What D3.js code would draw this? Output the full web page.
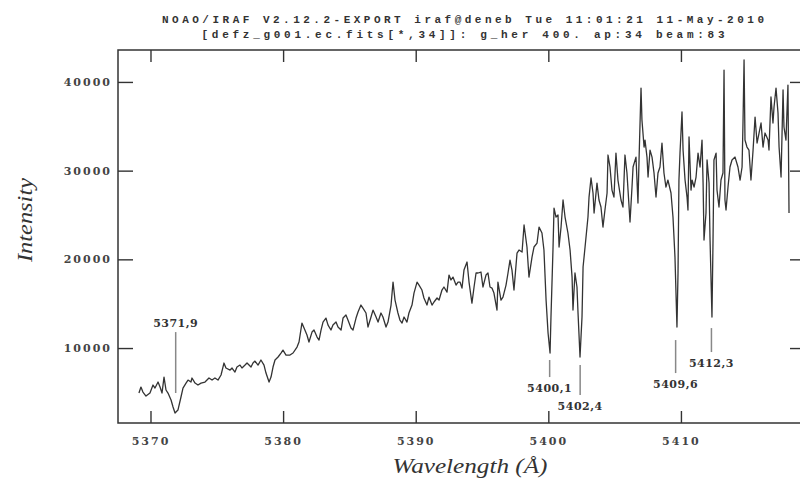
<!DOCTYPE html>
<html>
<head>
<meta charset="utf-8">
<script src="https://cdn.jsdelivr.net/npm/d3@7"></script>
<style>
  body { margin: 0; background: #fff; }
  svg { display: block; }
</style>
</head>
<body>
<div id="content"></div>
<script>
// spectrum (Angstrom, counts)
var wavelength = [
  5369.13,5369.28,5369.43,5369.66,5369.96,5370.19,5370.34,5370.57,5370.72,5370.87,
  5371.02,5371.17,5371.32,5371.55,5371.70,5371.85,5372.07,5372.30,5372.45,5372.68,
  5372.83,5373.05,5373.13,5373.36,5373.58,5373.81,5374.11,5374.41,5374.64,5374.86,
  5375.09,5375.32,5375.54,5375.69,5376.00,5376.15,5376.37,5376.52,5376.75,5376.90,
  5377.13,5377.28,5377.58,5377.73,5377.88,5378.11,5378.33,5378.56,5378.71,5378.94,
  5379.09,5379.24,5379.39,5379.62,5379.84,5379.99,5380.22,5380.52,5380.75,5381.05,
  5381.20,5381.42,5381.58,5381.80,5381.95,5382.18,5382.33,5382.56,5382.71,5382.86,
  5383.01,5383.23,5383.39,5383.61,5383.76,5383.99,5384.14,5384.37,5384.52,5384.74,
  5384.89,5385.12,5385.27,5385.50,5385.65,5385.87,5386.02,5386.25,5386.40,5386.63,
  5386.78,5387.01,5387.16,5387.38,5387.53,5387.76,5387.91,5388.14,5388.29,5388.44,
  5388.66,5388.81,5388.97,5389.12,5389.34,5389.49,5389.72,5389.87,5390.10,5390.25,
  5390.47,5390.62,5390.85,5391.00,5391.23,5391.38,5391.61,5391.76,5391.98,5392.13,
  5392.36,5392.51,5392.66,5392.81,5393.04,5393.19,5393.34,5393.49,5393.64,5393.87,
  5394.02,5394.24,5394.40,5394.55,5394.70,5394.92,5395.07,5395.30,5395.45,5395.60,
  5395.75,5395.90,5396.13,5396.20,5396.43,5396.58,5396.81,5396.96,5397.11,5397.26,
  5397.41,5397.64,5397.79,5398.02,5398.17,5398.39,5398.54,5398.77,5398.92,5399.15,
  5399.30,5399.52,5399.67,5399.83,5399.98,5400.13,5400.20,5400.35,5400.43,5400.58,
  5400.73,5400.81,5400.96,5401.11,5401.26,5401.48,5401.64,5401.79,5401.86,5402.01,
  5402.16,5402.24,5402.39,5402.54,5402.62,5402.77,5402.99,5403.07,5403.22,5403.37,
  5403.45,5403.67,5403.82,5403.97,5404.12,5404.27,5404.43,5404.50,5404.65,5404.80,
  5404.95,5405.10,5405.25,5405.48,5405.63,5405.78,5405.93,5406.16,5406.31,5406.39,
  5406.61,5406.76,5406.84,5406.99,5407.06,5407.22,5407.29,5407.44,5407.52,5407.67,
  5407.82,5407.97,5408.12,5408.27,5408.42,5408.57,5408.72,5408.87,5409.02,5409.25,
  5409.40,5409.55,5409.70,5409.78,5409.85,5409.93,5410.08,5410.16,5410.31,5410.46,
  5410.53,5410.61,5410.76,5410.84,5410.99,5411.14,5411.29,5411.44,5411.59,5411.67,
  5411.74,5411.89,5411.97,5412.12,5412.19,5412.34,5412.42,5412.49,5412.65,5412.72,
  5412.87,5413.02,5413.17,5413.25,5413.32,5413.40,5413.55,5413.70,5413.85,5414.08,
  5414.30,5414.46,5414.61,5414.68,5414.76,5414.83,5414.98,5415.13,5415.28,5415.44,
  5415.59,5415.74,5415.89,5416.04,5416.19,5416.34,5416.57,5416.64,5416.79,5416.94,
  5417.02,5417.17,5417.32,5417.40,5417.55,5417.70,5417.77,5417.92,5418.07,5418.15
]
var intensity = [
  4930,5600,5040,4590,4930,5830,5490,6170,5600,4930,
  6730,5270,4930,4140,3350,2670,3010,4480,5490,6050,
  6390,6170,6620,6050,5830,6050,6170,6620,6390,6620,
  6390,6960,8310,7750,7520,7750,7290,7860,8080,7750,
  8080,8310,7860,8310,8530,8080,8650,8080,7180,6170,
  6730,7860,8650,8990,9440,9770,9210,9210,9440,10110,
  10680,12820,12250,11470,10680,11800,12030,11240,10900,12030,
  12930,13380,12590,12030,12590,12930,12370,12030,13380,13720,
  13160,12250,12030,13380,14060,14850,14510,13950,12370,13500,
  14280,13500,12930,13950,13500,12370,12930,14850,17440,15410,
  13950,13160,12820,13500,12930,13950,14850,16200,17440,17100,
  16540,15640,14850,15750,14850,15190,15640,15410,16540,16880,
  16310,18230,17670,18000,17100,17440,17440,16760,18790,19700,
  17440,15070,16880,18460,18460,18570,16880,18230,18460,16880,
  16760,16200,14280,17440,15410,15750,17100,18460,19920,18790,
  16540,20710,21050,20820,23870,21390,18000,20260,21390,21840,
  23640,22970,21050,15410,11690,9440,13500,21050,25780,24770,
  25000,21390,23640,26690,24770,22970,21050,18000,14280,18460,
  16880,13950,8990,13500,19130,21390,24770,27020,29170,27480,
  25220,28600,26690,25900,23640,25560,27480,31760,30410,27810,
  27020,31980,28940,26690,25900,31760,29730,24210,28150,30410,
  31530,26350,31200,39310,35710,32660,33450,31530,29280,32320,
  31530,29730,27020,29730,30410,33110,29730,28150,28940,27480,
  24770,20260,12370,18460,28940,31980,36610,32320,28940,27020,
  25560,33790,27810,28940,28150,29280,31980,30410,33450,28600,
  22180,25220,31200,28600,22510,13500,22180,31200,31980,27810,
  25900,28940,29730,41340,26690,25560,28150,30410,31200,31530,
  30410,28940,30410,35370,42470,33450,32660,32320,28940,32320,
  36040,33110,34240,35370,32660,34240,33450,32320,38300,35370,
  37170,39310,36490,32660,29280,39090,34920,33450,39650,25220
]

var xTicks = [5370, 5380, 5390, 5400, 5410]
var yTicks = [10000, 20000, 30000, 40000]

// line identifications: wavelength, label, marker from/to (counts), label side
var markWave  = [5371.9, 5400.1, 5402.4, 5409.6, 5412.3]
var markLabel = ["5371,9", "5400,1", "5402,4", "5409,6", "5412,3"]
var markFrom  = [4930, 8650, 8080, 10900, 12250]
var markTo    = [11800, 6730, 4700, 7180, 9550]
var markAbove = [true, false, false, false, false]

var titleLines = [
  "NOAO/IRAF V2.12.2-EXPORT iraf@deneb Tue 11:01:21 11-May-2010",
  "[defz_g001.ec.fits[*,34]]: g_her 400. ap:34 beam:83"
]

var svgwidth = 800
var svgheight = 479
var plot = {left: 118, right: 804, top: 50, bottom: 423}

var x = d3.scaleLinear().domain([5367.55, 5419.28]).range([plot.left, plot.right])
var y = d3.scaleLinear().domain([1550, 43600]).range([plot.bottom, plot.top])

var svg = d3.select("#content").append("svg")
  .attr("width", svgwidth)
  .attr("height", svgheight)
  .style("background", "#fff")

svg.append("defs").append("clipPath").attr("id", "clip")
  .append("rect")
  .attr("x", plot.left).attr("y", plot.top)
  .attr("width", plot.right - plot.left).attr("height", plot.bottom - plot.top)

var tickFont = "'DejaVu Serif', serif"

function styleAxis(g, showText) {
  g.select(".domain").remove()
  g.selectAll(".tick line").attr("stroke", "#333").attr("stroke-width", 1.4)
  g.selectAll(".tick text")
    .attr("fill", "#444")
    .style("font-family", tickFont)
    .style("font-weight", "bold")
    .style("font-size", "11px")
    .style("letter-spacing", "2px")
  if (!showText) g.selectAll(".tick text").remove()
}

// axes
svg.append("g")
  .attr("transform", "translate(0," + plot.bottom + ")")
  .call(d3.axisBottom(x).tickValues(xTicks).tickSizeInner(-12).tickSizeOuter(0).tickPadding(14).tickFormat(d3.format("d")))
  .call(styleAxis, true)
svg.append("g")
  .attr("transform", "translate(0," + plot.top + ")")
  .call(d3.axisTop(x).tickValues(xTicks).tickSizeInner(-12).tickSizeOuter(0))
  .call(styleAxis, false)
svg.append("g")
  .attr("transform", "translate(" + plot.left + ",0)")
  .call(d3.axisLeft(y).tickValues(yTicks).tickSizeInner(-15).tickSizeOuter(0).tickPadding(6).tickFormat(d3.format("d")))
  .call(styleAxis, true)
svg.append("g")
  .attr("transform", "translate(" + plot.right + ",0)")
  .call(d3.axisRight(y).tickValues(yTicks).tickSizeInner(-14).tickSizeOuter(0))
  .call(styleAxis, false)

// frame
svg.append("rect")
  .attr("x", plot.left).attr("y", plot.top)
  .attr("width", plot.right - plot.left).attr("height", plot.bottom - plot.top)
  .attr("fill", "none").attr("stroke", "#333").attr("stroke-width", 1.5)

// spectrum
var pts = wavelength.map(function(w, i) { return [w, intensity[i]] })
svg.append("path")
  .datum(pts)
  .attr("clip-path", "url(#clip)")
  .attr("fill", "none")
  .attr("stroke", "#333")
  .attr("stroke-width", 1.3)
  .attr("stroke-linejoin", "round")
  .attr("d", d3.line().x(function(d) { return x(d[0]) }).y(function(d) { return y(d[1]) }))

// line marks
for (var i = 0; i < markWave.length; i++) {
  var mx = x(markWave[i])
  svg.append("line")
    .attr("x1", mx).attr("x2", mx)
    .attr("y1", y(markFrom[i])).attr("y2", y(markTo[i]))
    .attr("stroke", "#888").attr("stroke-width", 1.5)
  svg.append("text")
    .attr("x", mx)
    .attr("y", markAbove[i] ? y(markTo[i]) - 5 : y(markTo[i]) + 15)
    .attr("text-anchor", "middle")
    .attr("fill", "#333")
    .style("font-family", tickFont)
    .style("font-weight", "bold")
    .style("font-size", "11px")
    .style("letter-spacing", "0.5px")
    .text(markLabel[i])
}

// titles
var titleWidths = [602, 523]
for (var j = 0; j < titleLines.length; j++) {
  svg.append("text")
    .attr("x", 463)
    .attr("y", 23 + j * 15)
    .attr("text-anchor", "middle")
    .attr("textLength", titleWidths[j])
    .attr("lengthAdjust", "spacing")
    .attr("fill", "#333")
    .style("font-family", "'Liberation Mono', monospace")
    .style("font-weight", "bold")
    .style("font-size", "11px")
    .text(titleLines[j])
}

// axis labels
svg.append("text")
  .attr("x", 470).attr("y", 473)
  .attr("text-anchor", "middle")
  .attr("textLength", 155).attr("lengthAdjust", "spacingAndGlyphs")
  .attr("fill", "#333")
  .style("font-family", "'Liberation Serif', serif")
  .style("font-style", "italic")
  .style("font-size", "21px")
  .text("Wavelength (\u00C5)")

svg.append("text")
  .attr("transform", "translate(32,220) rotate(-90)")
  .attr("text-anchor", "middle")
  .attr("textLength", 84).attr("lengthAdjust", "spacingAndGlyphs")
  .attr("fill", "#333")
  .style("font-family", "'Liberation Serif', serif")
  .style("font-style", "italic")
  .style("font-size", "21px")
  .text("Intensity")
</script>
</body>
</html>
